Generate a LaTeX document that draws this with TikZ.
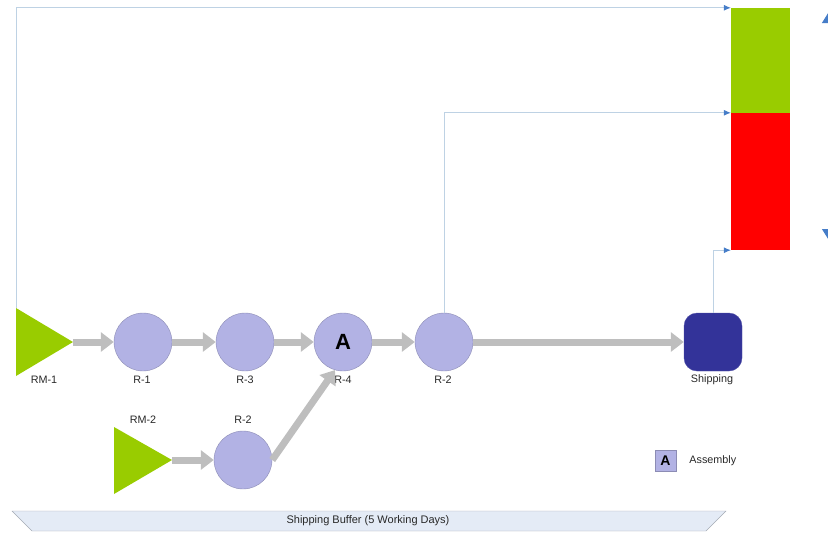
\documentclass[tikz,border=0pt]{standalone}
\usepackage{fontspec}
\setmainfont{Liberation Sans}
\usetikzlibrary{calc,arrows.meta,positioning}
\definecolor{lav}{RGB}{178,178,228}
\definecolor{lavline}{RGB}{140,140,180}
\definecolor{rmgreen}{RGB}{153,204,0}
\definecolor{barred}{RGB}{255,0,0}
\definecolor{navy}{RGB}{51,51,153}
\definecolor{flowgray}{RGB}{190,190,190}
\definecolor{linkblue}{RGB}{190,210,228}
\definecolor{tipblue}{RGB}{70,125,200}
\definecolor{buffill}{RGB}{228,235,246}
\definecolor{bufline}{RGB}{165,170,180}
\definecolor{labelgray}{RGB}{40,40,40}

\begin{document}
\begin{tikzpicture}[x=1pt,y=-1pt,
	rcirc/.style={circle,draw=lavline,fill=lav,minimum size=58pt,inner sep=0pt},
	lbl/.style={font=\fontsize{10.8}{12}\selectfont,text=labelgray,inner sep=0pt},
	fatarrow/.style={draw=flowgray,line width=7pt,-{Triangle[length=13pt,width=19pt]}},
	infoline/.style={draw=linkblue,line width=0.8pt,-{Latex[length=7pt,width=6pt,color=tipblue]}}]
	\useasboundingbox (0,0) rectangle (828,539);
	\def\lbly{380}

	% raw material triangles
	\path (16,308) coordinate (rm1top);
	\path (16,376) coordinate (rm1bot);
	\path (73,342) coordinate (rm1);
	\path (114,427) coordinate (rm2top);
	\path (114,494) coordinate (rm2bot);
	\path (172,460) coordinate (rm2);
	\fill[rmgreen] (rm1top) -- (rm1bot) -- (rm1) -- cycle;
	\fill[rmgreen] (rm2top) -- (rm2bot) -- (rm2) -- cycle;

	\node[rcirc] (r1) at (143,342) {};
	\node[rcirc] (r3) at (245,342) {};
	\node[rcirc,font=\bfseries\fontsize{22}{22}\selectfont] (r4) at (343,342) {A};
	\node[rcirc] (r2) at (444,342) {};
	\node[rcirc] (r2b) at (243,460) {};
	\node[draw=navy!85,fill=navy,rounded corners=13pt,minimum size=58pt,inner sep=0pt] (ship) at (713,342) {};

	\node[fill=rmgreen,minimum width=59pt,minimum height=105pt,inner sep=0pt] (greenbar) at (760.5,60.5) {};
	\node[fill=barred,minimum width=59pt,minimum height=137pt,inner sep=0pt] (redbar) at (760.5,181.5) {};

	\node[lbl] (rm1lbl) at (44,\lbly) {RM-1};
	\node[lbl] (r1lbl) at (142,\lbly) {R-1};
	\node[lbl] (r3lbl) at (245,\lbly) {R-3};
	\node[lbl] (r4lbl) at (343,\lbly) {R-4};
	\node[lbl] (r2lbl) at (443,\lbly) {R-2};
	\node[lbl] (shiplbl) at (712,\lbly) {Shipping};
	\node[lbl] (rm2lbl) at (143,420) {RM-2};
	\node[lbl] (r2blbl) at (243,420) {R-2};

	% material flow
	\draw[fatarrow] (rm1) -- (r1.west);
	\draw[fatarrow] (r1.east) -- (r3.west);
	\draw[fatarrow] (r3.east) -- (r4.west);
	\draw[fatarrow] (r4.east) -- (r2.west);
	\draw[fatarrow] (r2.east) -- (ship.west);
	\draw[fatarrow] (rm2) -- (r2b.west);
	\draw[fatarrow] (r2b.east) -- (r4.254);

	% buffer links
	\draw[infoline] (rm1top) |- (greenbar.north west);
	\draw[infoline] (r2.north) |- (redbar.north west);
	\draw[infoline] (ship.north) |- (redbar.south west);

	% arrow cut off at the right edge
	\path (830,10) coordinate (edgetop);
	\path (830,242) coordinate (edgebot);
	\draw[tipblue,line width=1pt,{Triangle[length=13pt,width=16pt]}-{Triangle[length=13pt,width=16pt]}] (edgetop) -- (edgebot);

	% legend
	\node[draw=lavline,fill=lav,minimum size=21pt,inner sep=0pt,font=\bfseries\fontsize{14}{14}\selectfont] (legA) at (665.5,460.5) {A};
	\node[lbl,right=13pt of legA] (legtxt) {Assembly};

	% shipping buffer
	\path (12,511) coordinate (buf1);
	\path (726,511) coordinate (buf2);
	\path (706,531) coordinate (buf3);
	\path (32,531) coordinate (buf4);
	\draw[draw=bufline,fill=buffill] (buf1) -- (buf2) -- (buf3) -- (buf4) -- cycle;
	\node[lbl,font=\fontsize{11}{12}\selectfont] (buflbl) at (368,521) {Shipping Buffer (5 Working Days)};
\end{tikzpicture}
\end{document}
